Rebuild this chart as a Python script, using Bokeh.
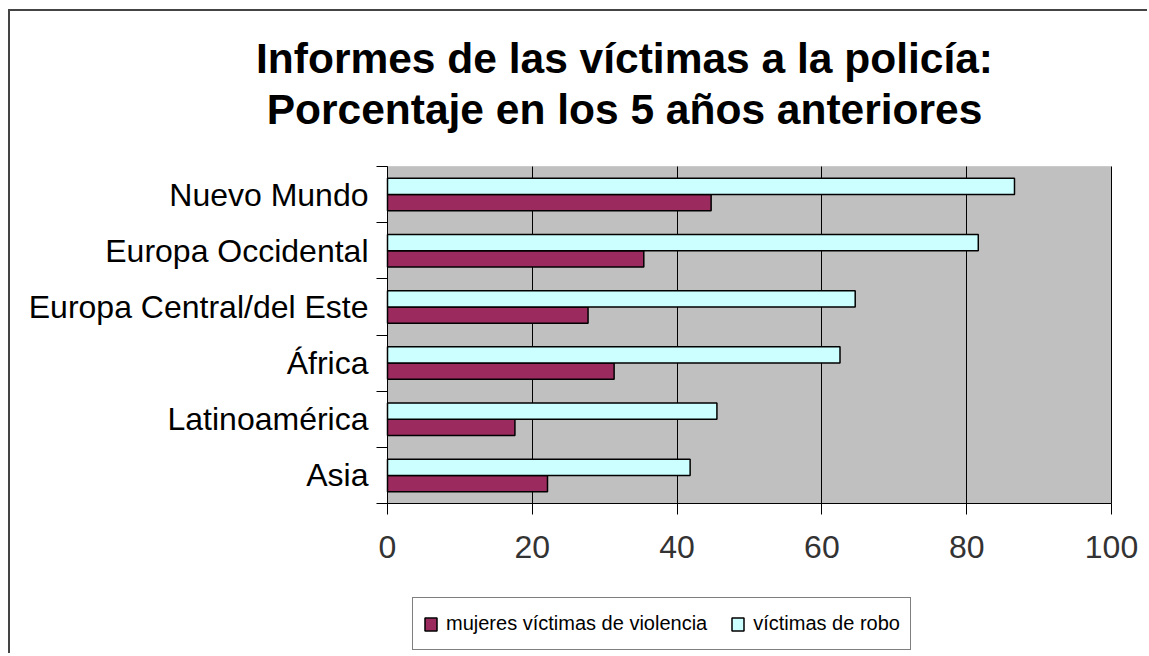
from bokeh.plotting import figure
from bokeh.models import (ColumnDataSource, FixedTicker, Legend, LegendItem,
                          Range1d, BoxAnnotation, Label)
from bokeh.embed import file_html
from bokeh.resources import INLINE

# ---- data ----
categories = ["Nuevo Mundo", "Europa Occidental", "Europa Central/del Este",
              "África", "Latinoamérica", "Asia"]
mujeres = [44.7, 35.4, 27.7, 31.3, 17.6, 22.1]
robo = [86.6, 81.6, 64.6, 62.5, 45.5, 41.8]
x_ticks = [0, 20, 40, 60, 80, 100]
series_names = ["mujeres víctimas de violencia", "víctimas de robo"]
title_lines = ["Informes de las víctimas a la policía:",
               "Porcentaje en los 5 años anteriores"]

FONT = "Liberation Sans"
n = len(categories)
centers = [n - 1 - i + 0.5 for i in range(n)]
bar_h = 0.29

src = ColumnDataSource(dict(
    cat=categories,
    y_m=[c - bar_h / 2 for c in centers],
    y_r=[c + bar_h / 2 for c in centers],
    mujeres=mujeres,
    robo=robo,
))

# ---- layout in canvas pixels (canvas = whole frame) ----
W, H = 1139, 644
AREA_L, AREA_T, AREA_W, AREA_H = 377, 155, 724, 337   # grey plot area
XMAX = 100
px_x = AREA_W / XMAX
px_y = AREA_H / n
x_low = -AREA_L / px_x
x_high = XMAX + (W - AREA_L - AREA_W) / px_x
y_high = n + AREA_T / px_y
y_low = -(H - AREA_T - AREA_H) / px_y


def dx(cx):
    return (cx - AREA_L) / px_x


def dy(cy):
    return (AREA_T + AREA_H - cy) / px_y


p = figure(width=W, height=H, output_backend="svg", toolbar_location=None,
           x_range=Range1d(x_low, x_high), y_range=Range1d(y_low, y_high),
           min_border_left=0, min_border_right=0,
           min_border_top=0, min_border_bottom=0)
p.styles = {"border-left": "2px solid #444444", "border-top": "2px solid #444444",
            "margin-left": "8px", "margin-top": "9px"}
p.title.visible = False

p.background_fill_color = "white"
p.border_fill_color = "white"
p.outline_line_color = None

plot_area = BoxAnnotation(left=0, right=XMAX, bottom=0, top=n,
                          fill_color="#c0c0c0", fill_alpha=1,
                          line_color="#a0a0a0", line_width=1, level="image")
p.add_layout(plot_area)

r_m = p.hbar(y="y_m", left=0, right="mujeres", height=bar_h, source=src,
             fill_color="#9b2b5e", line_color="black", line_width=1.5)
r_r = p.hbar(y="y_r", left=0, right="robo", height=bar_h, source=src,
             fill_color="#ccffff", line_color="black", line_width=1.5)

# x axis drawn at y = 0
p.xaxis.fixed_location = 0
p.xaxis.bounds = (0, XMAX)
p.xaxis.ticker = FixedTicker(ticks=x_ticks, minor_ticks=[])
p.xaxis.major_tick_out = 11
p.xaxis.major_tick_in = 0
p.xaxis.axis_line_color = "black"
p.xaxis.major_tick_line_color = "black"
p.xaxis.major_label_text_font = FONT
p.xaxis.major_label_text_font_size = "32px"
p.xaxis.major_label_text_color = "#333333"
p.xaxis.major_label_standoff = 21

# y axis at x = 0, labels centred on bands, ticks at band boundaries
p.yaxis.fixed_location = 0
p.yaxis.bounds = (0, n)
p.yaxis.ticker = FixedTicker(ticks=centers, minor_ticks=list(range(n + 1)))
p.yaxis.major_label_overrides = {c: cat for c, cat in zip(centers, categories)}
p.yaxis.major_tick_out = 0
p.yaxis.major_tick_in = 0
p.yaxis.minor_tick_out = 11
p.yaxis.minor_tick_in = 0
p.yaxis.minor_tick_line_color = "black"
p.yaxis.axis_line_color = "black"
p.yaxis.major_label_text_font = FONT
p.yaxis.major_label_text_font_size = "32px"
p.yaxis.major_label_text_color = "black"
p.yaxis.major_label_standoff = 8

p.xgrid.ticker = FixedTicker(ticks=x_ticks)
p.xgrid.cross_bounds = (0, n)
p.xgrid.grid_line_color = "black"
p.ygrid.grid_line_color = None

# two-line title, each line centred
for line, base in zip(title_lines, [47, 98]):
    p.add_layout(Label(x=dx(614), y=dy(base), text=line,
                       text_align="center", text_baseline="alphabetic",
                       text_font=FONT, text_font_size="42.5px",
                       text_font_style="bold", text_color="black"))

legend = Legend(items=[LegendItem(label=series_names[0], renderers=[r_m]),
                       LegendItem(label=series_names[1], renderers=[r_r])],
                orientation="horizontal", location=(402, 5),
                label_text_font=FONT, label_text_font_size="20px",
                label_text_color="black", label_height=31, label_standoff=8,
                glyph_width=15, glyph_height=16, spacing=23, padding=10,
                border_line_color="black", border_line_width=1.5,
                background_fill_color="white", background_fill_alpha=1)
p.add_layout(legend)

open("out.html", "w").write(file_html(p, INLINE))
